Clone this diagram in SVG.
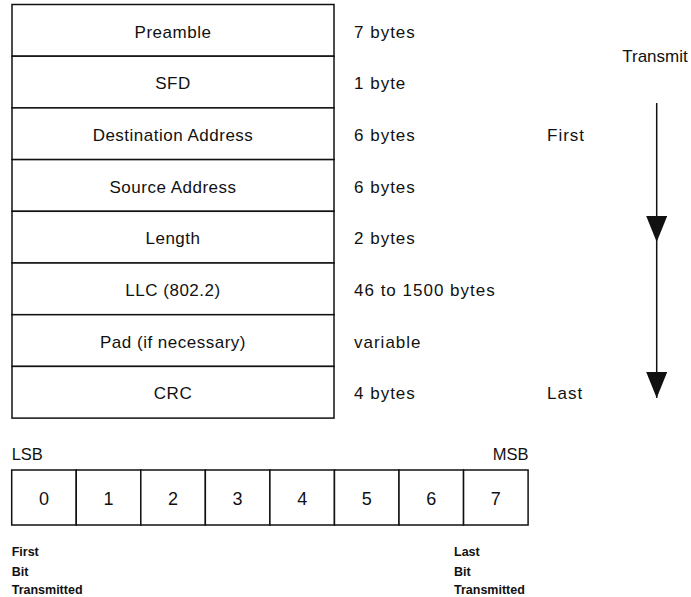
<svg xmlns="http://www.w3.org/2000/svg" width="691" height="597" viewBox="0 0 691 597">
<style>
  .box { fill: #fff; stroke: #111; stroke-width: 1.5; }
  .lbl { font-family: "Liberation Sans", Arial, sans-serif; font-size: 17px; fill: #111; letter-spacing: 0.5px; text-anchor: middle; }
  .side { font-family: "Liberation Sans", Arial, sans-serif; font-size: 17px; fill: #111; letter-spacing: 1px; }
  .digit { font-family: "Liberation Sans", Arial, sans-serif; font-size: 18px; fill: #111; text-anchor: middle; }
  .small { font-family: "Liberation Sans", Arial, sans-serif; font-size: 12.5px; font-weight: bold; fill: #111; }
  .conn { stroke: #111; stroke-width: 1.5; fill: none; }
</style>
<defs>
  <marker id="arrow" viewBox="0 0 26 21" refX="26" refY="10.5" markerWidth="26" markerHeight="21" markerUnits="userSpaceOnUse" orient="auto">
    <path d="M0,0 L26,10.5 L0,21 Z" fill="#111"/>
  </marker>
</defs>
<rect width="691" height="597" fill="#fff"/>

<g id="frame">
  <g id="preamble"><rect class="box" x="12" y="4.5" width="322" height="51.7"/><text class="lbl" x="173" y="37.5">Preamble</text></g>
  <g id="sfd"><rect class="box" x="12" y="56.2" width="322" height="51.7"/><text class="lbl" x="173" y="89">SFD</text></g>
  <g id="dest"><rect class="box" x="12" y="107.9" width="322" height="51.7"/><text class="lbl" x="173" y="141">Destination Address</text></g>
  <g id="src"><rect class="box" x="12" y="159.6" width="322" height="51.7"/><text class="lbl" x="173" y="192.5">Source Address</text></g>
  <g id="length"><rect class="box" x="12" y="211.3" width="322" height="51.7"/><text class="lbl" x="173" y="244">Length</text></g>
  <g id="llc"><rect class="box" x="12" y="263" width="322" height="51.7"/><text class="lbl" x="173" y="296">LLC (802.2)</text></g>
  <g id="pad"><rect class="box" x="12" y="314.7" width="322" height="51.7"/><text class="lbl" x="173" y="347.5">Pad (if necessary)</text></g>
  <g id="crc"><rect class="box" x="12" y="366.4" width="322" height="51.7"/><text class="lbl" x="173" y="399">CRC</text></g>
</g>

<g id="sizes">
  <text class="side" x="354" y="37.5">7 bytes</text>
  <text class="side" x="354" y="89">1 byte</text>
  <text class="side" x="354" y="141">6 bytes</text>
  <text class="side" x="354" y="192.5">6 bytes</text>
  <text class="side" x="354" y="244">2 bytes</text>
  <text class="side" x="354" y="296">46 to 1500 bytes</text>
  <text class="side" x="354" y="347.5">variable</text>
  <text class="side" x="354" y="399">4 bytes</text>
  <text class="side" x="547" y="141">First</text>
  <text class="side" x="547" y="399">Last</text>
</g>

<g id="transmit">
  <text class="lbl" x="655" y="61.5" style="letter-spacing:0">Transmit</text>
</g>

<g id="connectors">
  <path class="conn" d="M656.7,103 L656.7,242" marker-end="url(#arrow)"/>
  <path class="conn" d="M656.7,242 L656.7,398" marker-end="url(#arrow)"/>
</g>

<g id="bits">
  <text class="side" x="11.7" y="460" style="font-size:16.5px;letter-spacing:0">LSB</text>
  <text class="side" x="528.5" y="460" style="font-size:16.5px;letter-spacing:0;text-anchor:end">MSB</text>
  <g id="bit0"><rect class="box" x="11.7" y="470" width="64.55" height="55"/><text class="digit" x="44" y="504.5">0</text></g>
  <g id="bit1"><rect class="box" x="76.25" y="470" width="64.55" height="55"/><text class="digit" x="108.5" y="504.5">1</text></g>
  <g id="bit2"><rect class="box" x="140.8" y="470" width="64.55" height="55"/><text class="digit" x="173" y="504.5">2</text></g>
  <g id="bit3"><rect class="box" x="205.35" y="470" width="64.55" height="55"/><text class="digit" x="237.6" y="504.5">3</text></g>
  <g id="bit4"><rect class="box" x="269.9" y="470" width="64.55" height="55"/><text class="digit" x="302.2" y="504.5">4</text></g>
  <g id="bit5"><rect class="box" x="334.45" y="470" width="64.55" height="55"/><text class="digit" x="366.7" y="504.5">5</text></g>
  <g id="bit6"><rect class="box" x="399" y="470" width="64.55" height="55"/><text class="digit" x="431.3" y="504.5">6</text></g>
  <g id="bit7"><rect class="box" x="463.55" y="470" width="64.55" height="55"/><text class="digit" x="495.8" y="504.5">7</text></g>
  <text class="small" x="11.7" y="555.5">First</text>
  <text class="small" x="11.7" y="575.5">Bit</text>
  <text class="small" x="11.7" y="594">Transmitted</text>
  <text class="small" x="454" y="555.5">Last</text>
  <text class="small" x="454" y="575.5">Bit</text>
  <text class="small" x="454" y="594">Transmitted</text>
</g>
</svg>
